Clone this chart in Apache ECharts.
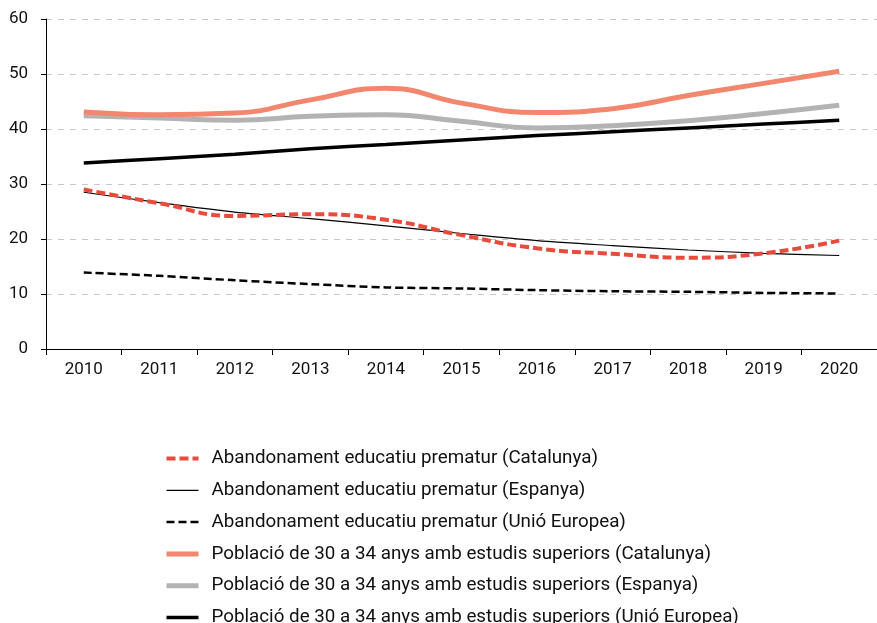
<!DOCTYPE html>
<html>
<head>
<meta charset="utf-8">
<script src="https://cdn.jsdelivr.net/npm/echarts@6/dist/echarts.min.js"></script>
<style>
  html, body { margin: 0; padding: 0; background: #fff; }
  #chart { width: 877px; height: 623px; }
</style>
</head>
<body>
<div id="chart"></div>
<script>
// anys
const years = ['2010', '2011', '2012', '2013', '2014', '2015', '2016', '2017', '2018', '2019', '2020'];

// abandonament educatiu prematur
const abandCat = [29.0, 26.5, 24.2, 24.5, 23.5, 20.7, 18.3, 17.3, 16.6, 17.4, 19.7];
const abandEsp = [28.5, 26.6, 24.9, 23.7, 22.4, 21.0, 19.7, 18.8, 18.0, 17.4, 17.0];
const abandUE = [13.9, 13.3, 12.5, 11.8, 11.2, 11.0, 10.7, 10.5, 10.4, 10.2, 10.1];

// població de 30 a 34 anys amb estudis superiors
const superCat = [43.1, 42.6, 42.9, 45.3, 47.4, 44.7, 43.0, 43.7, 46.1, 48.3, 50.5];
const superEsp = [42.4, 42.0, 41.6, 42.3, 42.6, 41.4, 40.2, 40.6, 41.5, 42.8, 44.3];
const superUE = [33.8, 34.6, 35.4, 36.4, 37.2, 38.0, 38.8, 39.5, 40.2, 40.9, 41.6];

const yTicks = [0, 10, 20, 30, 40, 50, 60];

const chart = echarts.init(document.getElementById('chart'));

// estils de cada sèrie (també per a la llegenda)
const styles = [
  { name: 'Abandonament educatiu prematur (Catalunya)', data: abandCat, color: '#e84a3b', width: 4, type: [9, 4], z: 7, smooth: 0.5 },
  { name: 'Abandonament educatiu prematur (Espanya)', data: abandEsp, color: '#000', width: 1.2, type: 'solid', z: 5, smooth: 0.3 },
  { name: 'Abandonament educatiu prematur (Unió Europea)', data: abandUE, color: '#000', width: 2.5, type: [8, 4], z: 6, smooth: 0.3 },
  { name: 'Població de 30 a 34 anys amb estudis superiors (Catalunya)', data: superCat, color: '#f2876e', width: 5, type: 'solid', z: 3, smooth: 0.5 },
  { name: 'Població de 30 a 34 anys amb estudis superiors (Espanya)', data: superEsp, color: '#b3b3b3', width: 5, type: 'solid', z: 2, smooth: 0.5 },
  { name: 'Població de 30 a 34 anys amb estudis superiors (Unió Europea)', data: superUE, color: '#000', width: 3.5, type: 'solid', z: 4, smooth: 0.3 }
];

const option = {
  animation: false,
  textStyle: { fontFamily: 'Roboto' },
  grid: { left: 46, right: 0, top: 19, bottom: 274 },
  xAxis: {
    type: 'category',
    data: years,
    boundaryGap: true,
    axisLine: { lineStyle: { color: '#000', width: 1 } },
    axisTick: { show: true, length: 6, lineStyle: { color: '#000' } },
    axisLabel: { color: '#111', fontSize: 17, margin: 12, fontFamily: 'Roboto' }
  },
  yAxis: {
    type: 'value',
    min: yTicks[0],
    max: yTicks[yTicks.length - 1],
    interval: 10,
    axisLine: { show: true, lineStyle: { color: '#000', width: 1 } },
    axisTick: { show: true, length: 5, lineStyle: { color: '#000' } },
    axisLabel: { color: '#111', fontSize: 17, margin: 18, fontFamily: 'Roboto' },
    splitLine: { lineStyle: { color: '#c8c8c8', type: [6, 6], width: 1 } }
  },
  legend: {
    orient: 'vertical',
    left: 164,
    top: 449,
    padding: 0,
    height: 260,
    itemWidth: 32,
    itemHeight: 14,
    itemGap: 12.8,
    itemStyle: { opacity: 0 },
    textStyle: { color: '#111', fontSize: 18.8, fontFamily: 'Roboto', padding: [0, 0, 0, 8] },
    data: styles.map(s => ({
      name: s.name,
      lineStyle: { color: s.color, width: s.width, type: s.type, cap: 'butt' }
    }))
  },
  series: styles.map(s => ({
    name: s.name,
    type: 'line',
    data: s.data,
    symbol: 'none',
    smooth: s.smooth,
    z: s.z,
    itemStyle: { color: s.color },
    lineStyle: { color: s.color, width: s.width, type: s.type, cap: 'butt' }
  }))
};

chart.setOption(option);
</script>
</body>
</html>
